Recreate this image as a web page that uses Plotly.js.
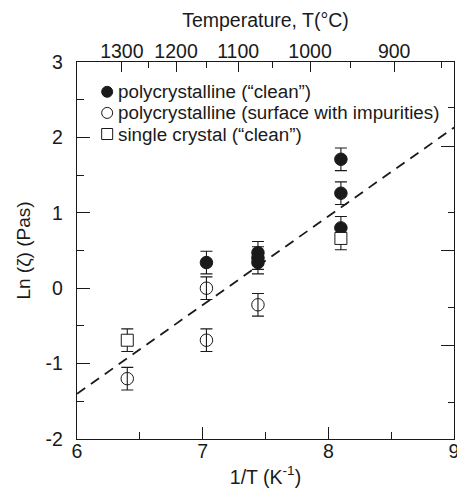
<!DOCTYPE html>
<html>
<head>
<meta charset="utf-8">
<script src="https://cdn.plot.ly/plotly-3.0.1.min.js"></script>
<style>html,body{margin:0;padding:0;background:#fff;}#chart{width:457px;height:494px;}</style>
</head>
<body>
<div id="chart"></div>
<script>
// ---- data ----
var cleanX = [7.03, 7.44, 7.44, 7.44, 8.10, 8.10, 8.10];
var cleanY = [0.34, 0.47, 0.40, 0.34, 1.71, 1.26, 0.80];
var cleanErr = [0.15, 0.15, 0.15, 0.15, 0.15, 0.15, 0.15];

var impureX = [6.40, 7.03, 7.03, 7.44];
var impureY = [-1.20, 0.00, -0.69, -0.22];
var impureErr = [0.15, 0.15, 0.15, 0.15];

var singleX = [6.40, 8.10];
var singleY = [-0.69, 0.66];
var singleErr = [0.15, 0.15];

var fitX = [6, 9];
var fitY = [-1.40, 2.13];

var tempMajor = [1300, 1200, 1100, 1000, 900];
var tempMinor = [1250, 1150, 1050, 950, 850];

var rightMajor = [1.88, 0.50, -0.76];
var rightMinor = [2.39, 1.01, -0.25, -1.51];

var names = ['polycrystalline (\u201cclean\u201d)', 'polycrystalline (surface with impurities)', 'single crystal (\u201cclean\u201d)'];
var legendSymbols = ['circle', 'circle-open', 'square-open'];

function invT(t){ return 1e4 / (t + 273.15); }

var FONT = 'Liberation Sans, Arial, sans-serif';
var INK = '#1a1a1a';

function errBar(arr){
  return {type:'data', array: arr, visible:true, color: INK, thickness: 1.1, width: 6};
}

var traces = [
  {x: fitX, y: fitY, mode:'lines', line:{color: INK, width:1.8, dash:'10px,7px'}, showlegend:false, hoverinfo:'skip'},
  {x: cleanX, y: cleanY, name: names[0], mode:'markers', error_y: errBar(cleanErr),
   marker:{symbol:'circle', size:12.5, color: INK, line:{color: INK, width:1}}},
  {x: impureX, y: impureY, name: names[1], mode:'markers', error_y: errBar(impureErr),
   marker:{symbol:'circle-open', size:12.5, color: INK, line:{color: INK, width:1}}},
  {x: singleX, y: singleY, name: names[2], mode:'markers', error_y: errBar(singleErr),
   marker:{symbol:'square', size:12, color: '#ffffff', line:{color: INK, width:1}}},
  {x: [null], y: [null], xaxis:'x2', yaxis:'y2', mode:'markers', showlegend:false, hoverinfo:'skip'}
];

// legend drawn as text annotations plus symbol shapes (compact row spacing like the reference)
var legX = 0.080;      // paper x of symbol centre
var legY0 = 0.921;     // paper y of first row
var legDy = 0.056;     // row spacing in paper units
var annotations = [];
var shapes = [];
for (var i = 0; i < names.length; i++) {
  var yy = legY0 - i * legDy;
  annotations.push({xref:'paper', yref:'paper', x: legX + 0.023, y: yy, xanchor:'left', yanchor:'middle',
    text: names[i], showarrow:false, font:{family: FONT, size: 18.8, color: INK}});
  var isCircle = legendSymbols[i].indexOf('circle') === 0;
  shapes.push({type: isCircle ? 'circle' : 'rect', xref:'paper', yref:'paper',
    xsizemode:'pixel', ysizemode:'pixel', xanchor: legX, yanchor: yy,
    x0:-5.5, x1:5.5, y0:-5.5, y1:5.5,
    fillcolor: legendSymbols[i] === 'circle' ? INK : 'rgba(0,0,0,0)',
    line:{color: INK, width: 1}});
}

var layout = {
  width: 457, height: 494,
  margin: {l: 77, r: 3, t: 62, b: 55, pad: 0},
  paper_bgcolor: '#ffffff', plot_bgcolor: '#ffffff',
  font: {family: FONT, size: 19, color: INK},
  showlegend: false,
  annotations: annotations,
  shapes: shapes,
  xaxis: {range: [6, 9], tickmode:'array', tickvals:[6,7,8,9], ticktext:['6','7','8','9'],
          ticks:'inside', ticklen: 12, tickwidth: 1, tickcolor: INK,
          minor:{tickmode:'array', tickvals:[6.5,7.5,8.5], ticks:'inside', ticklen: 7, tickwidth:1, tickcolor: INK, showgrid:false},
          showline: true, linecolor: INK, linewidth: 1.2, mirror: true, showgrid: false, zeroline: false,
          tickfont:{size: 19.5}, ticklabelstandoff: -6, ticklabeloverflow:'allow',
          title:{text:'1/T (K<sup>-1</sup>)', font:{size: 19.5}, standoff: 9}},
  xaxis2: {overlaying:'x', side:'top', anchor:'y', range:[6, 9], tickmode:'array',
          tickvals: tempMajor.map(invT), ticktext: tempMajor.map(String),
          ticks:'inside', ticklen: 10, tickwidth:1, tickcolor: INK,
          minor:{tickmode:'array', tickvals: tempMinor.map(invT), ticks:'inside', ticklen: 6, tickwidth:1, tickcolor: INK, showgrid:false},
          showline:false, showgrid:false, zeroline:false, tickfont:{size: 19.5}, ticklabelstandoff: -1, ticklabeloverflow:'allow',
          title:{text:'Temperature, T(\u00b0C)', font:{size: 19.5}, standoff: 7}},
  yaxis: {range: [-2, 3], tickmode:'array', tickvals:[-2,-1,0,1,2,3], ticktext:['-2','-1','0','1','2','3'],
          ticks:'inside', ticklen: 13, tickwidth:1, tickcolor: INK,
          minor:{tickmode:'array', tickvals:[-1.5,-0.5,0.5,1.5,2.5], ticks:'inside', ticklen: 7, tickwidth:1, tickcolor: INK, showgrid:false},
          showline:true, linecolor: INK, linewidth: 1.2, mirror: true, showgrid:false, zeroline:false,
          tickfont:{size: 19.5}, ticklabelstandoff: 9, ticklabeloverflow:'allow',
          title:{text:'Ln (\u03b6) (Pas)', font:{size: 19}, standoff: 10}},
  yaxis2: {overlaying:'y', side:'right', anchor:'x', range:[-2, 3], tickmode:'array', tickvals: rightMajor,
          ticks:'inside', ticklen: 13, tickwidth:1, tickcolor: INK, showticklabels:false,
          minor:{tickmode:'array', tickvals: rightMinor, ticks:'inside', ticklen: 6, tickwidth:1, tickcolor: INK, showgrid:false},
          showline:false, showgrid:false, zeroline:false}
};

Plotly.newPlot('chart', traces, layout, {displayModeBar:false, staticPlot:true});
</script>
</body>
</html>
